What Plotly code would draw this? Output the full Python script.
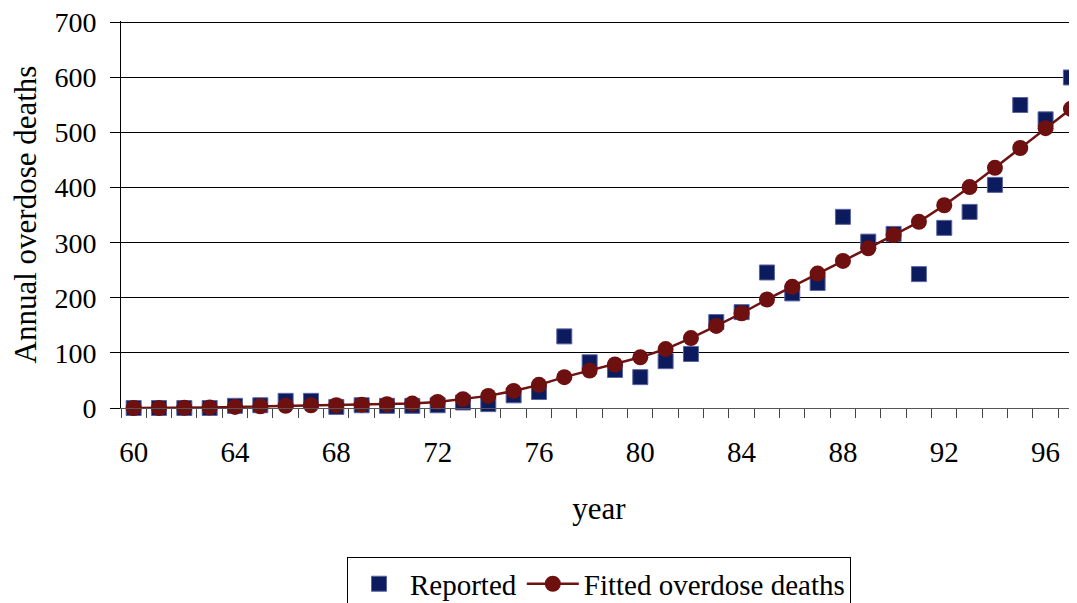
import plotly.graph_objects as go

# 年（60年〜97年）
years = list(range(60, 98))

# 報告された死亡数
reported = [0, 0, 0, 0, 4, 5, 13, 13, 2, 5, 4, 4, 5, 10, 7, 23, 29, 130, 83, 69,
            56, 85, 98, 156, 174, 246, 208, 227, 347, 302, 316, 243, 327, 356, 405, 550,
            524, 600]

# フィットした死亡数
fitted = [0, 0, 0.5, 1, 2, 3, 4, 5, 5, 6, 7, 8, 11, 16, 22, 31, 42, 56, 68, 79,
          92, 107, 127, 149, 172, 197, 220, 244, 267, 290, 314, 338, 368, 401, 436, 472,
          508, 543]

label_years = list(range(60, 97, 4))
y_ticks = [0, 100, 200, 300, 400, 500, 600, 700]

font_family = "Liberation Serif, Times New Roman, serif"

fig = go.Figure()
fig.add_trace(
    go.Scatter(
        x=years,
        y=reported,
        mode="markers",
        marker=dict(symbol="square", size=15, color="#0c1a5e",
                    line=dict(width=1, color="#5a64a0")),
        name="Reported",
        cliponaxis=False,
    )
)
fig.add_trace(
    go.Scatter(
        x=years,
        y=fitted,
        mode="lines+markers",
        line=dict(color="#6e1212", width=2.5),
        marker=dict(symbol="circle", size=16, color="#6e1010"),
        name="Fitted overdose deaths",
        cliponaxis=False,
    )
)

# ページ本体の余白(8px)を差し引いたサイズ
fig.update_layout(
    width=1069,
    height=595,
    margin=dict(l=113, r=0, t=13, b=195, autoexpand=False),
    plot_bgcolor="white",
    paper_bgcolor="white",
    font=dict(family=font_family, size=26, color="black"),
    showlegend=True,
    legend=dict(
        orientation="h",
        x=0.5,
        xanchor="center",
        y=-0.386,
        yanchor="top",
        bordercolor="black",
        borderwidth=1,
        font=dict(size=29),
        itemwidth=52,
    ),
    xaxis=dict(
        range=[59.5, 97.24],
        automargin=False,
        tickvals=label_years,
        ticktext=[str(v) for v in label_years],
        tickfont=dict(size=29),
        ticks="outside",
        ticklen=18,
        tickcolor="rgba(0,0,0,0)",
        ticklabeloverflow="allow",
        showgrid=False,
        zeroline=False,
        showline=True,
        linecolor="#555555",
        linewidth=1,
        minor=dict(
            tickvals=[y - 0.5 for y in years] + [97.5],
            ticks="outside",
            ticklen=9,
            tickcolor="#444444",
            showgrid=False,
        ),
        title=dict(text="year", standoff=30),
    ),
    yaxis=dict(
        range=[0, 702.5],
        automargin=False,
        tickvals=y_ticks,
        tickfont=dict(size=28),
        ticks="outside",
        ticklen=10,
        tickcolor="black",
        ticklabelstandoff=8,
        ticklabeloverflow="allow",
        showgrid=True,
        gridcolor="black",
        gridwidth=1,
        zeroline=False,
        showline=True,
        linecolor="black",
        linewidth=1,
        title=dict(text="Annual overdose deaths", standoff=14),
    ),
)

fig.write_html("out.html")
